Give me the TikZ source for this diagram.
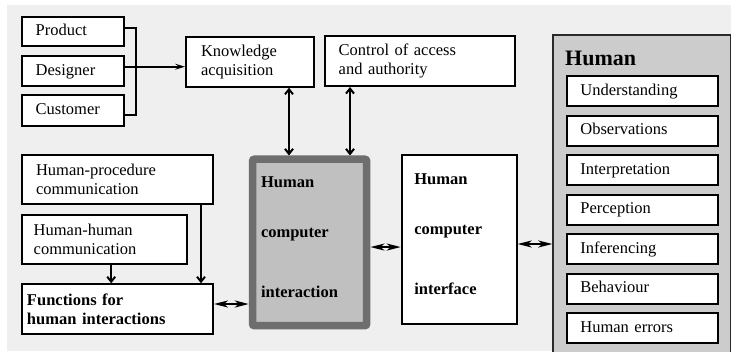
\documentclass[tikz,border=0pt]{standalone}
\usepackage{fontspec}
\setmainfont{Liberation Serif}
\usetikzlibrary{arrows.meta}

\definecolor{bgc}{HTML}{EFEFEF}
\definecolor{hcifill}{HTML}{C0C0C0}
\definecolor{hciedge}{HTML}{6E6E6E}
\definecolor{panelfill}{HTML}{CCCCCC}
\definecolor{paneledge}{HTML}{2A2A2A}

\tikzset{
  box/.style={draw=black, line width=2pt, fill=white, anchor=north west,
    align=left, font=\fontsize{16.5}{19}\selectfont, inner ysep=0pt},
  oneline/.style={text height=11pt, text depth=3pt},
  bigbox/.style={box, font=\fontsize{16.5}{19}\selectfont\bfseries},
  wire/.style={line width=2pt},
  feed/.style={wire, -{Stealth[length=10pt,width=6pt,inset=4pt]}},
  down/.style={wire, -{Straight Barb[length=5pt,width=8pt]}},
  vdbl/.style={wire, {Straight Barb[length=5pt,width=8pt]}-{Straight Barb[length=5pt,width=8pt]}},
  hdbl/.style={wire, {Stealth[length=14pt,width=7pt,inset=4pt]}-{Stealth[length=14pt,width=7pt,inset=4pt]}},
}

\begin{document}
\begin{tikzpicture}[x=1pt,y=-1pt]
\useasboundingbox (0,0) rectangle (731,351);
\fill[bgc] (7,4.5) rectangle (731,351);

% sources of knowledge
\node[box, oneline, minimum width=102.3pt, minimum height=29.3pt, inner xsep=14pt, text width=74.3pt]
  (product) at (20.7,15.7) {Product};
\node[box, oneline, minimum width=102.3pt, minimum height=30pt, inner xsep=14pt, text width=74.3pt]
  (designer) at (20.7,55) {Designer};
\node[box, oneline, minimum width=102.3pt, minimum height=30.5pt, inner xsep=14pt, text width=74.3pt]
  (customer) at (20.7,94.2) {Customer};

\node[box, minimum width=127.7pt, minimum height=50pt, inner xsep=15pt, text width=97.7pt]
  (knowledge) at (185,35.7) {Knowledge\\acquisition};
\node[box, minimum width=190pt, minimum height=50pt, inner xsep=13.7pt, text width=162.6pt]
  (control) at (324,35) {Control of access\\and authority};

% communication functions
\node[box, minimum width=191.3pt, minimum height=49pt, inner xsep=14.3pt, text width=162.7pt]
  (hproc) at (20.7,154.3) {Human-procedure\\communication};
\node[box, minimum width=165pt, minimum height=49.3pt, inner xsep=12pt, text width=141pt]
  (hhum) at (20.7,214) {Human-human\\communication};
\node[bigbox, minimum width=191.3pt, minimum height=49.4pt, inner xsep=5.3pt, text width=180.7pt]
  (func) at (20.7,283.3) {Functions for\\human interactions};

% central blocks
\node[bigbox, draw=hciedge, fill=hcifill, line width=7.5pt, rounded corners=2pt,
  minimum width=114.2pt, minimum height=166.5pt, inner xsep=8.5pt, text width=97.2pt]
  (hci) at (248.75,155.45)
  {Human\\[31pt]computer\\[41pt]interaction\rule[-10.6pt]{0pt}{10.6pt}};
\node[bigbox, minimum width=115pt, minimum height=168.4pt, inner xsep=12.6pt, text width=89.8pt]
  (hcint) at (400.7,154.3)
  {Human\\[31pt]computer\\[41pt]interface\rule[-10.6pt]{0pt}{10.6pt}};

% human panel
\node[draw=paneledge, fill=panelfill, line width=2pt, anchor=north west,
  minimum width=177.7pt, minimum height=330pt] (human) at (552.3,34.3) {};
\node[anchor=base west, inner sep=0pt, font=\fontsize{22}{26}\selectfont\bfseries]
  (humant) at (565,65) {Human};
\foreach \name/\txt [count=\i from 0] in {und/Understanding, obs/Observations,
    intp/Interpretation, perc/Perception, infe/Inferencing, behv/Behaviour, herr/Human errors}{
  \node[box, oneline, minimum width=151.3pt, minimum height=30pt, inner xsep=13.7pt, text width=123.9pt]
    (\name) at (565.7,75.3+39.45*\i) {\txt};
}

% connectors
\coordinate (bx) at (135.5,70);
\draw[wire] ([yshift=3.65pt]product.east) -| (bx) |- ([yshift=-4.8pt]customer.east);
\draw[feed] ([yshift=4.3pt]designer.east) -- ([yshift=4.3pt]designer.east -| knowledge.west);

\draw[vdbl] ([xshift=-25.7pt]knowledge.south east) -- ([xshift=-25.7pt]knowledge.south east |- hci.north);
\draw[vdbl] ([xshift=26pt]control.south west) -- ([xshift=26pt]control.south west |- hci.north);

\draw[down] ([xshift=-13pt]hproc.south east) -- ([xshift=-13pt]hproc.south east |- func.north);
\draw[down] ([xshift=7pt]hhum.south) -- ([xshift=7pt]hhum.south |- func.north);

\draw[hdbl] ([yshift=5pt]func.east) -- ([yshift=5pt]func.east -| hci.west);
\draw[hdbl] ([yshift=-4.6pt]hci.east) -- ([yshift=-4.6pt]hci.east -| hcint.west);
\draw[hdbl] ([yshift=-4.5pt]hcint.east) -- ([yshift=-4.5pt]hcint.east -| human.west);
\end{tikzpicture}
\end{document}
